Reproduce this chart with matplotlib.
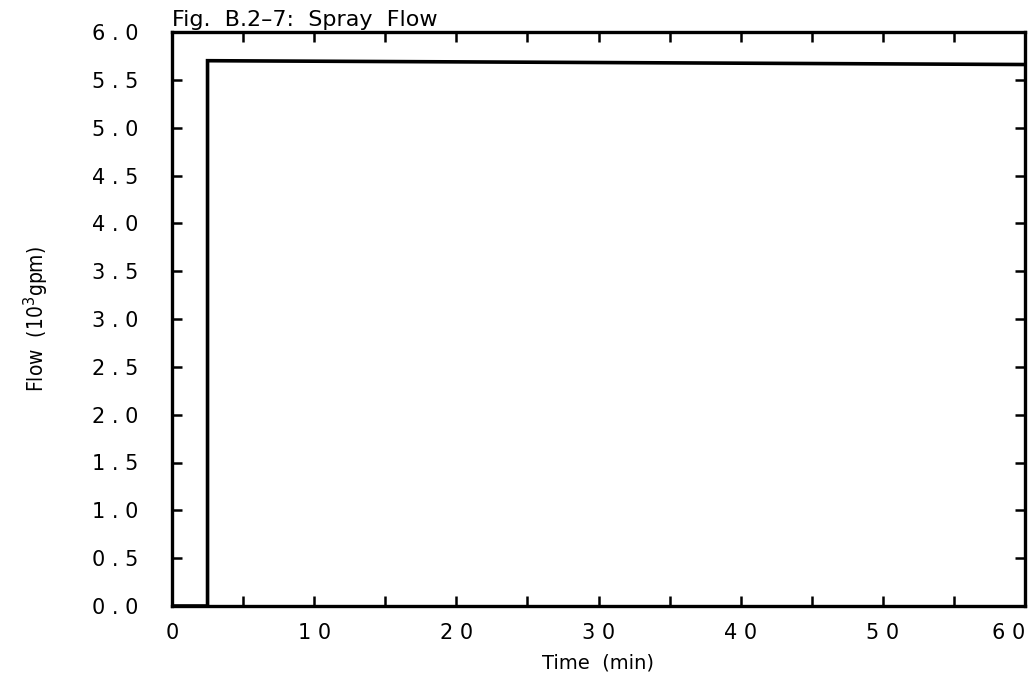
import matplotlib
matplotlib.use("Agg")
import matplotlib.pyplot as plt
import numpy as np

# ---------- data ----------
time_min = [0.0, 2.5, 2.5, 60.0]
flow_kgpm = [0.0, 0.0, 5.70, 5.66]

x_major = [0, 10, 20, 30, 40, 50, 60]
x_minor = [5, 15, 25, 35, 45, 55]
y_ticks = [0.0, 0.5, 1.0, 1.5, 2.0, 2.5, 3.0, 3.5, 4.0, 4.5, 5.0, 5.5, 6.0]

title = "Fig.  B.2\u20137:  Spray  Flow"
xlabel = "Time  (min)"
ylabel = "Flow  (10$^3$gpm)"


def spaced(s):
    # the old plotter font puts a gap between each character
    return " ".join(s)


fig = plt.figure(figsize=(10.36, 6.92), dpi=100)
ax = fig.add_axes([172 / 1036, 1 - 606 / 692, (1025 - 172) / 1036, (606 - 32) / 692])

ax.plot(time_min, flow_kgpm, color="black", lw=2.6, solid_joinstyle="miter")

ax.set_xlim(0, 60)
ax.set_ylim(0, 6)

ax.set_xticks(x_major)
ax.set_xticks(x_minor, minor=True)
ax.set_xticklabels([spaced(str(v)) for v in x_major])
ax.set_yticks(y_ticks)
ax.set_yticklabels([spaced(f"{v:.1f}") for v in y_ticks])

ax.tick_params(axis="both", which="both", direction="in", top=True, right=True,
               length=7, width=1.8, color="black")
ax.tick_params(axis="x", which="major", labelsize=15, pad=12)
ax.tick_params(axis="y", which="major", labelsize=15, pad=24)

# last x label sits flush with the right frame, as in the scan
xt = ax.get_xticklabels()
xt[-1].set_horizontalalignment("right")
xt[-1].set_x(60)

for sp in ax.spines.values():
    sp.set_linewidth(2.4)
    sp.set_color("black")

ax.set_title(title, loc="left", fontsize=16, pad=4)
ax.set_xlabel(xlabel, fontsize=14, labelpad=8)
ax.set_ylabel(ylabel, fontsize=15, labelpad=30,
              family=["Liberation Sans Narrow", "DejaVu Sans"], fontstretch="condensed")

fig.savefig("out.png", dpi=100)
